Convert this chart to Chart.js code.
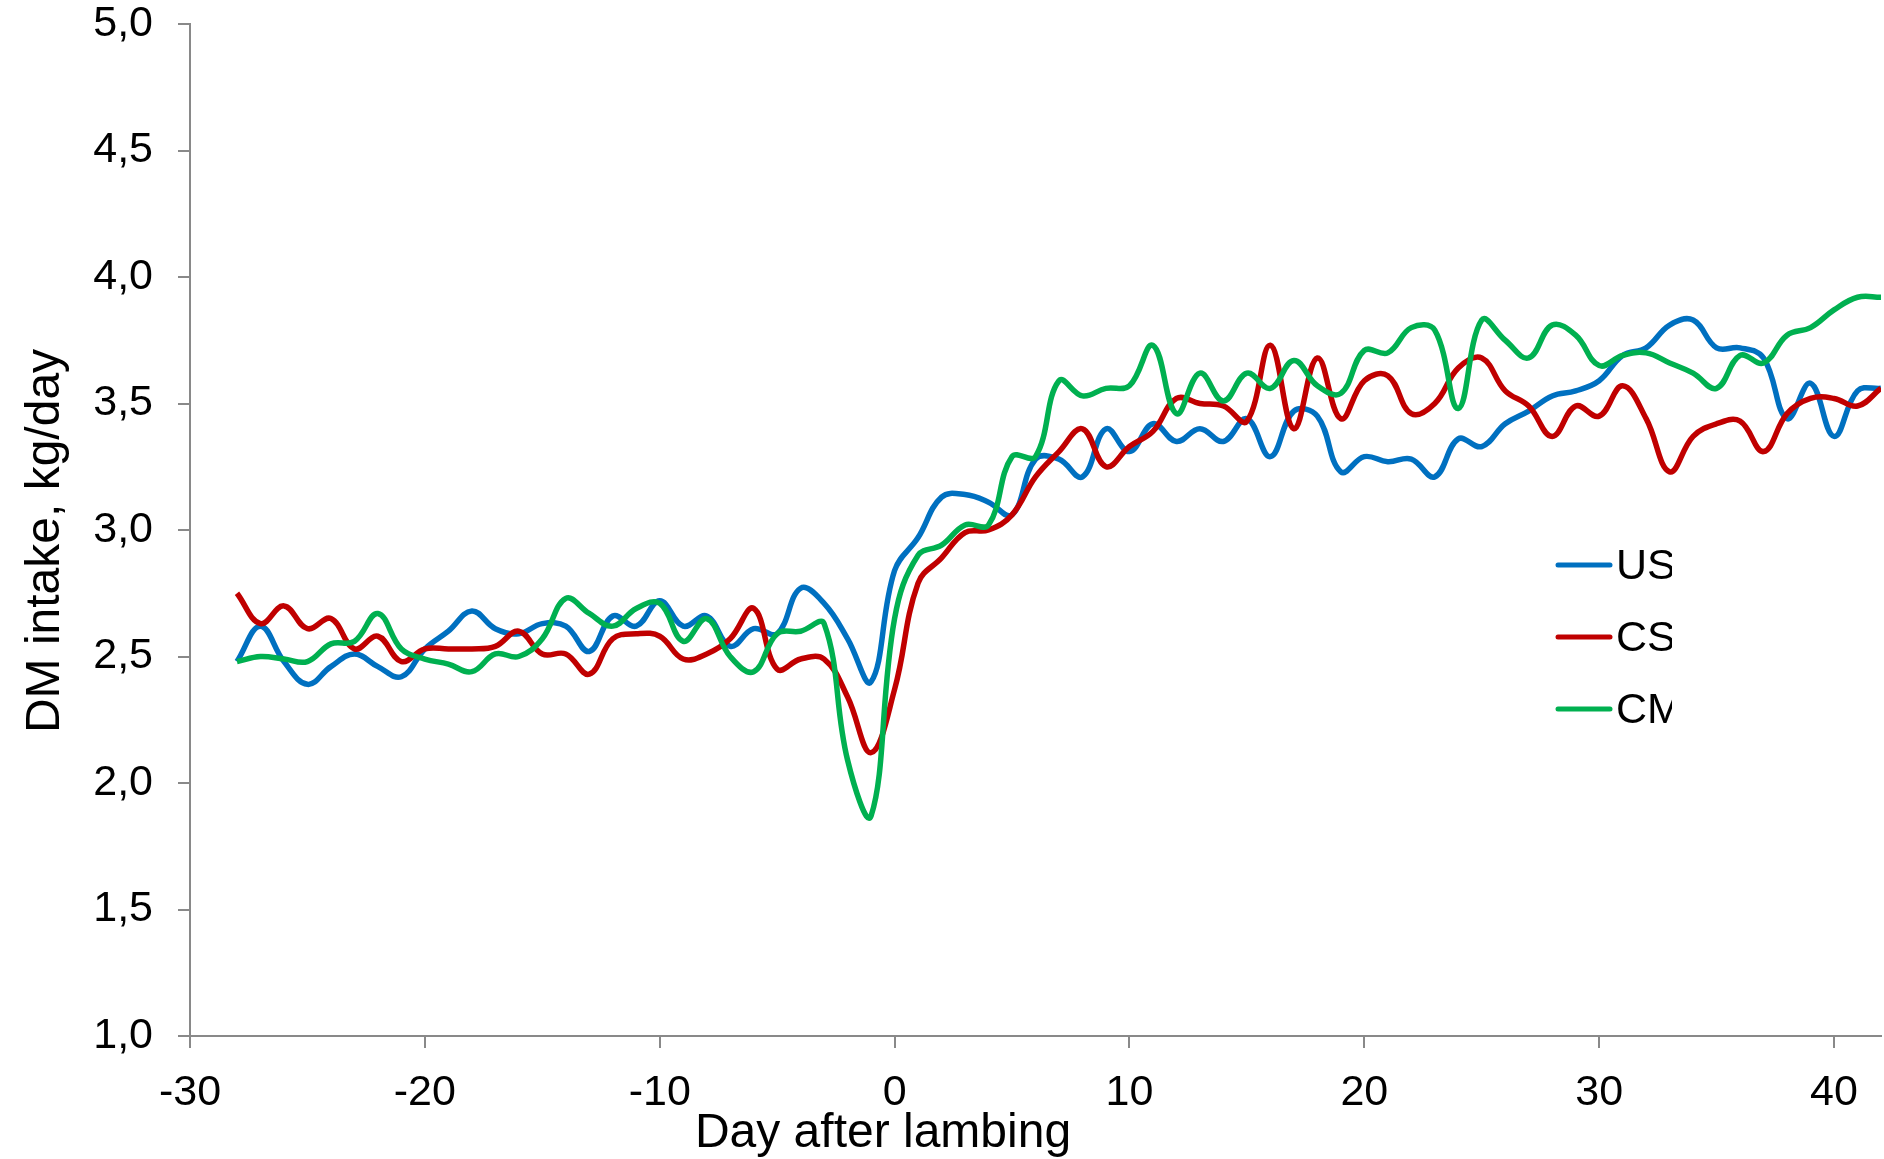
<!DOCTYPE html>
<html>
<head>
<meta charset="utf-8">
<script src="https://cdn.jsdelivr.net/npm/chart.js@4/dist/chart.umd.min.js"></script>
<style>
  html, body { margin: 0; padding: 0; background: #fff; }
  #wrap { width: 1884px; height: 1159px; }
</style>
</head>
<body>
<div id="wrap"><canvas id="dmi" width="1884" height="1159"></canvas></div>
<script>
// days after lambing, -28 .. 42
const days = [];
for (let d = -28; d <= 42; d++) days.push(d);

const seriesNames = ['US', 'CS', 'CM'];
const seriesColors = ['#0070C0', '#C00000', '#00B050'];

// DM intake, kg/day
const usValues = [
  2.48, 2.62, 2.48, 2.39, 2.46, 2.51, 2.46, 2.42, 2.53, 2.60,
  2.68, 2.61, 2.59, 2.63, 2.62, 2.52, 2.66, 2.62, 2.72, 2.62,
  2.66, 2.54, 2.61, 2.59, 2.77, 2.71, 2.57, 2.40, 2.84, 2.97,
  3.13, 3.14, 3.11, 3.06, 3.28, 3.28, 3.21, 3.40, 3.31, 3.42,
  3.35, 3.40, 3.35, 3.44, 3.29, 3.47, 3.45, 3.23, 3.29, 3.27,
  3.28, 3.21, 3.36, 3.33, 3.42, 3.47, 3.53, 3.55, 3.59, 3.69,
  3.72, 3.81, 3.83, 3.72, 3.72, 3.68, 3.44, 3.58, 3.37, 3.55,
  3.56
];
const csValues = [
  2.75, 2.63, 2.70, 2.61, 2.65, 2.53, 2.58, 2.48, 2.53, 2.53,
  2.53, 2.54, 2.60, 2.51, 2.51, 2.43, 2.57, 2.59, 2.58, 2.49,
  2.51, 2.57, 2.69, 2.45, 2.49, 2.49, 2.34, 2.12, 2.37, 2.79,
  2.89, 2.99, 3.00, 3.06, 3.21, 3.31, 3.40, 3.25, 3.33, 3.39,
  3.52, 3.50, 3.49, 3.43, 3.73, 3.40, 3.68, 3.44, 3.59, 3.61,
  3.46, 3.50, 3.64, 3.68, 3.55, 3.49, 3.37, 3.49, 3.45, 3.57,
  3.44, 3.23, 3.37, 3.42, 3.43, 3.31, 3.46, 3.52, 3.52, 3.49,
  3.56
];
const cmValues = [
  2.48, 2.50, 2.49, 2.48, 2.55, 2.56, 2.67, 2.53, 2.49, 2.47,
  2.44, 2.51, 2.50, 2.57, 2.73, 2.67, 2.62, 2.69, 2.71, 2.56,
  2.65, 2.50, 2.44, 2.59, 2.60, 2.63, 2.09, 1.87, 2.65, 2.90,
  2.94, 3.02, 3.02, 3.29, 3.29, 3.59, 3.53, 3.56, 3.57, 3.73,
  3.46, 3.62, 3.51, 3.62, 3.56, 3.67, 3.57, 3.54, 3.71, 3.70,
  3.80, 3.79, 3.48, 3.83, 3.75, 3.68, 3.81, 3.77, 3.65, 3.69,
  3.70, 3.66, 3.62, 3.56, 3.69, 3.66, 3.77, 3.80, 3.87, 3.92,
  3.92
];

const xTitle = 'Day after lambing';
const yTitle = 'DM intake, kg/day';

const FONT = '"Liberation Sans", Arial, sans-serif';
const AXIS_GREY = '#898989';

const pairs = vals => days.map((d, i) => ({ x: d, y: vals[i] }));
const allValues = [usValues, csValues, cmValues];

// titles + the small legend inside the plot
const overlay = {
  id: 'overlay',
  afterDraw(chart) {
    const ctx = chart.ctx;
    ctx.save();
    ctx.fillStyle = '#000';
    ctx.font = '48px ' + FONT;
    ctx.textAlign = 'center';
    ctx.textBaseline = 'middle';
    ctx.fillText(xTitle, 883, 1134);
    ctx.translate(46, 541);
    ctx.rotate(-Math.PI / 2);
    ctx.fillText(yTitle, 0, 0);
    ctx.restore();

    ctx.save();
    ctx.beginPath();
    ctx.rect(1540, 520, 132, 230);
    ctx.clip();
    ctx.font = '43px ' + FONT;
    ctx.textAlign = 'left';
    ctx.textBaseline = 'middle';
    chart.data.datasets.forEach((ds, i) => {
      const y = 565 + i * 72;
      ctx.strokeStyle = ds.borderColor;
      ctx.lineWidth = 5;
      ctx.lineCap = 'round';
      ctx.beginPath();
      ctx.moveTo(1558, y);
      ctx.lineTo(1610, y);
      ctx.stroke();
      ctx.fillStyle = '#000';
      ctx.fillText(ds.label, 1616, y + 2);
    });
    ctx.restore();
  }
};

new Chart(document.getElementById('dmi'), {
  type: 'line',
  data: {
    datasets: seriesNames.map((name, i) => ({
      label: name,
      data: pairs(allValues[i]),
      borderColor: seriesColors[i],
      backgroundColor: seriesColors[i],
      borderWidth: 5.5,
      pointRadius: 0,
      tension: 0.4,
      fill: false,
      order: 2 - i
    }))
  },
  options: {
    responsive: false,
    animation: false,
    layout: { padding: { top: 24, right: 3, left: 0, bottom: 0 } },
    plugins: {
      legend: { display: false },
      tooltip: { enabled: false }
    },
    scales: {
      x: {
        type: 'linear',
        min: -30,
        max: 42,
        afterFit: s => { s.height = 123; s.paddingLeft = 0; s.paddingRight = 0; },
        ticks: {
          stepSize: 10,
          includeBounds: false,
          color: '#000',
          padding: 24,
          maxRotation: 0,
          font: { family: FONT, size: 43, lineHeight: 1 }
        },
        grid: {
          drawOnChartArea: false,
          drawTicks: true,
          tickLength: 12,
          color: AXIS_GREY,
          lineWidth: 2
        },
        border: { display: true, color: AXIS_GREY, width: 2 }
      },
      y: {
        min: 1,
        max: 5,
        afterFit: s => { s.width = 190; s.paddingTop = 0; s.paddingBottom = 0; },
        ticks: {
          stepSize: 0.5,
          color: '#000',
          padding: 25,
          font: { family: FONT, size: 43, lineHeight: 1 },
          callback: v => Number(v).toFixed(1).replace('.', ',')
        },
        grid: {
          drawOnChartArea: false,
          drawTicks: true,
          tickLength: 12,
          color: AXIS_GREY,
          lineWidth: 2
        },
        border: { display: true, color: AXIS_GREY, width: 2 }
      }
    }
  },
  plugins: [overlay]
});
</script>
</body>
</html>
